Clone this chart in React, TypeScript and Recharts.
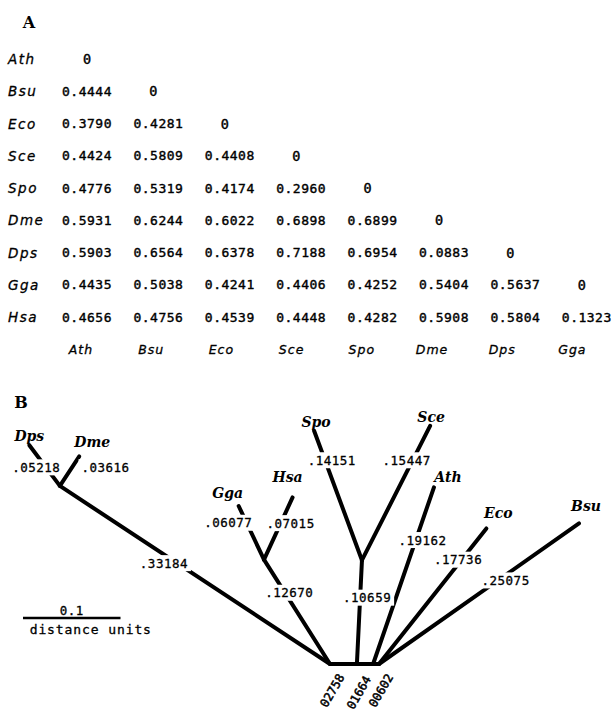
import React from 'react';
import { ComposedChart, Scatter, XAxis, YAxis } from 'recharts';

const W = 614;
const H = 711;

// ---------------- Panel A: distance matrix ----------------
const species = ['Ath', 'Bsu', 'Eco', 'Sce', 'Spo', 'Dme', 'Dps', 'Gga', 'Hsa'];
const columnLabels = ['Ath', 'Bsu', 'Eco', 'Sce', 'Spo', 'Dme', 'Dps', 'Gga'];
const rowAth = [0];
const rowBsu = [0.4444, 0];
const rowEco = [0.379, 0.4281, 0];
const rowSce = [0.4424, 0.5809, 0.4408, 0];
const rowSpo = [0.4776, 0.5319, 0.4174, 0.296, 0];
const rowDme = [0.5931, 0.6244, 0.6022, 0.6898, 0.6899, 0];
const rowDps = [0.5903, 0.6564, 0.6378, 0.7188, 0.6954, 0.0883, 0];
const rowGga = [0.4435, 0.5038, 0.4241, 0.4406, 0.4252, 0.5404, 0.5637, 0];
const rowHsa = [0.4656, 0.4756, 0.4539, 0.4448, 0.4282, 0.5908, 0.5804, 0.1323];
const matrixRows = [rowAth, rowBsu, rowEco, rowSce, rowSpo, rowDme, rowDps, rowGga, rowHsa];

// ---------------- Panel B: tree ----------------
const nodeIds = ['DD', 'Dps', 'Dme', 'GH', 'Gga', 'Hsa', 'M1', 'SS', 'Spo', 'Sce', 'M2', 'Ath', 'R', 'Eco', 'Bsu'];
const nodeParents = ['root', 'DD', 'DD', 'root', 'GH', 'GH', 'root', 'M1', 'SS', 'SS', 'M1', 'M2', 'M2', 'R', 'R'];
const branchLengths = [0.33184, 0.05218, 0.03616, 0.1267, 0.06077, 0.07015, 0.02758, 0.10659, 0.14151, 0.15447, 0.01664, 0.19162, 0.00602, 0.17736, 0.25075];
const scaleBarValue = 0.1;

// ---------------- layout (not data) ----------------
const branchAngles = [146.6, 126.9, 56.7, 122.3, 115.3, 65.3, 0, 87.2, 110.3, 63.1, 0, 71, 0, 51.6, 35.1];
// label placement along each branch: t = fraction from parent, dx/dy px, mode
const branchLabelLayout: any[] = [
  { t: 0.6, dx: -4, dy: 6, mode: 'inline' },
  { t: 0.579, dx: -6, dy: 5, mode: 'inline' },
  { t: 0.5, dx: 36, dy: -4, mode: 'inline' },
  { t: 0.663, dx: 3, dy: -2, mode: 'inline' },
  { t: 0.818, dx: -15, dy: 7, mode: 'inline' },
  { t: 0.651, dx: 8, dy: 4, mode: 'inline' },
  { t: 0.5, dx: -2, dy: 11, mode: 'base' },
  { t: 0.639, dx: 7, dy: 0, mode: 'inline' },
  { t: 0.757, dx: 6, dy: -2, mode: 'inline' },
  { t: 0.729, dx: -5, dy: -2, mode: 'inline' },
  { t: 0.5, dx: 3, dy: 13, mode: 'base' },
  { t: 0.713, dx: 6, dy: 2, mode: 'inline' },
  { t: 0.5, dx: 14, dy: 11, mode: 'base' },
  { t: 0.755, dx: -2, dy: -2, mode: 'inline' },
  { t: 0.623, dx: 2, dy: 4, mode: 'inline' },
];
const tipLabelOffsets: Record<string, number[]> = {
  Dps: [0, -9], Dme: [13, -14], Gga: [-11, -13], Hsa: [-5, -20], Spo: [2, -9],
  Sce: [1, -9], Ath: [14, -10], Eco: [12, -15], Bsu: [7, -17],
};

// matrix pixel layout
const M_X0 = 87, M_DX = 71.4, M_Y0 = 59, M_DY = 32.25;
// tree pixel layout
const T_X0 = 330, T_Y0 = 664, T_S = 975;

const mCol = (px: number) => (px - M_X0) / M_DX;
const mRow = (py: number) => (py - M_Y0) / M_DY;
const tX = (px: number) => (px - T_X0) / T_S;
const tY = (py: number) => (T_Y0 - py) / T_S;

// ---------------- build matrix marks ----------------
const matrixItems: any[] = [];
species.forEach((sp, r) => {
  matrixItems.push({ x: mCol(8), y: r, text: sp, kind: 'rowLabel' });
  matrixRows[r].forEach((v, c) => {
    matrixItems.push({ x: c, y: r, text: v === 0 ? '0' : v.toFixed(4), kind: v === 0 ? 'zero' : 'value', dx: v === 0 && c > 0 ? -5 : 0 });
  });
});
columnLabels.forEach((lab, c) => {
  matrixItems.push({ x: c, y: species.length, text: lab, kind: 'colLabel', dx: -6 - 1.2 * c });
});
matrixItems.push({ x: mCol(29), y: mRow(22), text: 'A', kind: 'panel' });

// ---------------- build tree geometry ----------------
const pos: Record<string, { x: number; y: number }> = { root: { x: 0, y: 0 } };
nodeIds.forEach((id, i) => {
  const p = pos[nodeParents[i]];
  const a = (branchAngles[i] * Math.PI) / 180;
  pos[id] = { x: p.x + branchLengths[i] * Math.cos(a), y: p.y + branchLengths[i] * Math.sin(a) };
});

const treeItems: any[] = [];
nodeIds.forEach((id, i) => {
  const p = pos[nodeParents[i]];
  const c = pos[id];
  const L = branchLengths[i];
  const lay = branchLabelLayout[i];
  const px = p.x + (c.x - p.x) * lay.t;
  const py = p.y + (c.y - p.y) * lay.t;
  const s = L.toFixed(5);
  if (lay.mode === 'base') {
    treeItems.push({ x: px, y: py, text: s.slice(2), kind: 'base', dx: lay.dx, dy: lay.dy, rot: -60 });
  } else {
    treeItems.push({ x: px, y: py, text: s.slice(1), kind: 'branch', dx: lay.dx, dy: lay.dy });
  }
  if (species.includes(id)) {
    const off = tipLabelOffsets[id] || [0, -10];
    treeItems.push({ x: c.x, y: c.y, text: id, kind: 'tip', dx: off[0], dy: off[1] });
  }
});
const barStart = { x: tX(23), y: tY(618) };
const barEnd = { x: barStart.x + scaleBarValue, y: barStart.y };
treeItems.push({ x: barStart.x + scaleBarValue / 2, y: barStart.y, text: String(scaleBarValue), kind: 'scaleTop', dx: 0, dy: -8 });
treeItems.push({ x: barStart.x + scaleBarValue / 2, y: barStart.y, text: 'distance units', kind: 'scaleBottom', dx: 19, dy: 11 });
treeItems.push({ x: tX(21), y: tY(402), text: 'B', kind: 'panel' });

// ---------------- text styles ----------------
const MONO = '"DejaVu Sans Mono", "Liberation Mono", monospace';
const STYLES: Record<string, any> = {
  rowLabel: { font: '"DejaVu Sans", sans-serif', size: 13.5, italic: true, anchor: 'start', ls: 1.5, sw: 0.3 },
  colLabel: { font: '"DejaVu Sans", sans-serif', size: 12.5, italic: true, anchor: 'middle', ls: 1, sw: 0.3 },
  value: { font: MONO, size: 13, anchor: 'middle', ls: 0.5, sw: 0.4 },
  zero: { font: MONO, size: 13.5, anchor: 'middle', ls: 0, sw: 0.4 },
  panel: { font: '"DejaVu Serif", serif', size: 16, bold: true, anchor: 'middle', ls: 0 },
  tip: { font: '"DejaVu Serif", serif', size: 14, bold: true, italic: true, anchor: 'middle', ls: 0 },
  branch: { font: MONO, size: 12.5, anchor: 'middle', ls: 0.5, box: true, charW: 8, sw: 0.3 },
  base: { font: MONO, size: 12, anchor: 'end', ls: 0, sw: 0.5 },
  scaleTop: { font: MONO, size: 12.5, anchor: 'middle', ls: 0.5, sw: 0.3 },
  scaleBottom: { font: MONO, size: 13, anchor: 'middle', ls: 0.9, sw: 0.3 },
};

function TextMark(props: any) {
  const { cx, cy, payload } = props;
  if (cx == null || cy == null || !payload) return <g />;
  const st = STYLES[payload.kind];
  const x = cx + (payload.dx || 0);
  const y = cy + (payload.dy || 0);
  const w = payload.text.length * (st.charW || 8) + 6;
  return (
    <g>
      {st.box && <rect x={x - w / 2} y={y - 8} width={w} height={16} fill="#ffffff" />}
      <text
        x={x}
        y={y}
        textAnchor={st.anchor}
        dominantBaseline="central"
        fontFamily={st.font}
        fontSize={st.size}
        fontWeight={st.bold ? 'bold' : 'normal'}
        fontStyle={st.italic ? 'italic' : 'normal'}
        letterSpacing={st.ls}
        fill="#000"
        stroke={st.sw ? '#000' : 'none'}
        strokeWidth={st.sw || 0}
        transform={payload.rot ? `rotate(${payload.rot} ${x} ${y})` : undefined}
      >
        {payload.text}
      </text>
    </g>
  );
}

const NoShape = () => <g />;
const lineStyle = { stroke: '#000', strokeWidth: 4, strokeLinecap: 'round' as const };

export default function App() {
  return (
    <div style={{ position: 'absolute', left: 0, top: 0, width: W, height: H, background: '#fff' }}>
      <ComposedChart width={W} height={H} margin={{ top: 0, right: 0, bottom: 0, left: 0 }}>
        <XAxis xAxisId="m" dataKey="x" type="number" hide allowDataOverflow domain={[mCol(0), mCol(W)]} />
        <YAxis yAxisId="m" dataKey="y" type="number" hide allowDataOverflow reversed domain={[mRow(0), mRow(H)]} />
        <XAxis xAxisId="t" dataKey="x" type="number" hide allowDataOverflow domain={[tX(0), tX(W)]} />
        <YAxis yAxisId="t" dataKey="y" type="number" hide allowDataOverflow domain={[tY(H), tY(0)]} />
        {nodeIds.map((id, i) => (
          <Scatter
            key={'br' + id}
            xAxisId="t"
            yAxisId="t"
            data={[pos[nodeParents[i]], pos[id]]}
            line={lineStyle}
            shape={NoShape}
            isAnimationActive={false}
          />
        ))}
        <Scatter
          key="scalebar"
          xAxisId="t"
          yAxisId="t"
          data={[barStart, barEnd]}
          line={{ stroke: '#000', strokeWidth: 2.6 }}
          shape={NoShape}
          isAnimationActive={false}
        />
        <Scatter key="treeText" xAxisId="t" yAxisId="t" data={treeItems} shape={TextMark} isAnimationActive={false} />
        <Scatter key="matrixText" xAxisId="m" yAxisId="m" data={matrixItems} shape={TextMark} isAnimationActive={false} />
      </ComposedChart>
    </div>
  );
}
